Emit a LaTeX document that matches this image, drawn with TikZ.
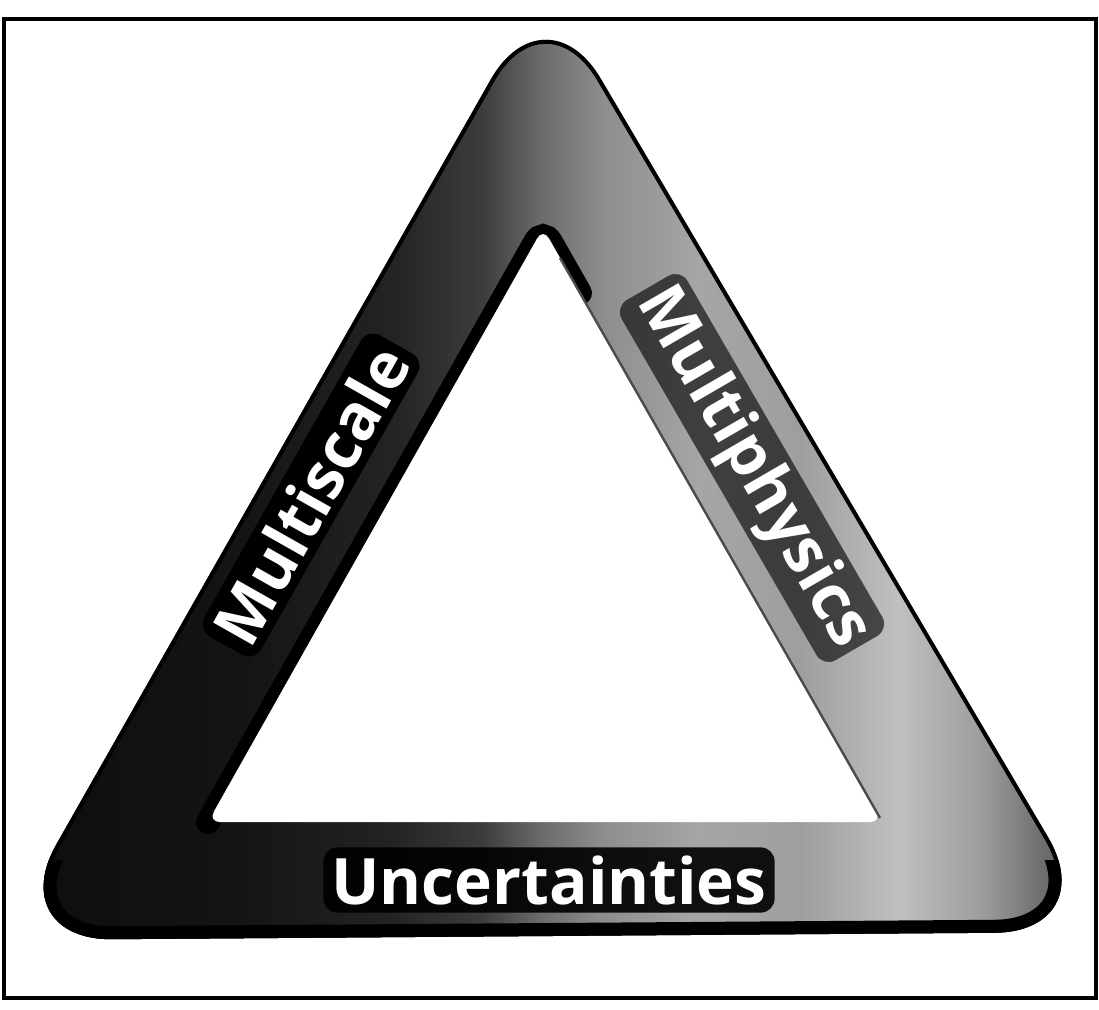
\documentclass[tikz,border=0pt]{standalone}
\usepackage{fontspec}
\newfontfamily\labfont{Open Sans}
\pgfdeclarehorizontalshading{bandshade}{100bp}{color(0bp)=(black!95); color(25bp)=(black!95); color(36bp)=(black!92); color(43bp)=(black!86); color(47bp)=(black!76); color(49.6bp)=(black!58); color(52.3bp)=(black!45); color(56.8bp)=(black!35); color(61.4bp)=(black!38); color(65.9bp)=(black!25); color(69.6bp)=(black!38); color(73.2bp)=(black!62); color(75bp)=(black!70); color(100bp)=(black!70)}
\tikzset{
  lab/.style={font={\labfont\bfseries\fontsize{32}{38}\selectfont}, text=white, inner sep=4pt, rounded corners=7pt, fill=black},
  outershape/.style={rounded corners=55pt},
}
\begin{document}
\begin{tikzpicture}[x=0.5pt,y=-0.5pt]
\useasboundingbox (0,0) rectangle (1099,1009);
\fill[white] (0,0) rectangle (1099,1009);
% frame
\draw[black, line width=2pt] (4,19) rectangle (1096,998);
% band
\begin{scope}
  \clip[outershape] (550,936) -- (1104,932) -- (545,-16) -- (2,940) -- cycle;
  \shade[shading=bandshade] (0,0) rectangle (1099,1009);
  \draw[black, line width=4pt, outershape] (550,936) -- (1104,932) -- (545,-16) -- (2,940) -- cycle;
  \begin{scope}
    \clip (0,860) rectangle (1099,1009);
    \draw[black, line width=13pt, outershape] (550,936) -- (1104,932) -- (545,-16) -- (2,940) -- cycle;
  \end{scope}
  % dark inner rim along left side and apex
  \draw[black, line width=12pt, rounded corners=8pt, line cap=round] (208,822) -- (543,228) -- (580,293);
\end{scope}
% inner hole
\fill[white, rounded corners=6pt] (543,228) -- (882,822) -- (208,822) -- cycle;
\draw[black!70, line width=1.2pt] (560,258) -- (880,818);
% labels
\node[lab, rotate=60.5] (ms) at (311,495) {Multiscale};
\node[lab, rotate=-59.9, inner sep=3pt, fill opacity=0.62, text opacity=1] (mp) at (752,468) {Multiphysics};
\node[lab, fill opacity=0.9, text opacity=1] (un) at (549,880) {Uncertainties};
\end{tikzpicture}
\end{document}
